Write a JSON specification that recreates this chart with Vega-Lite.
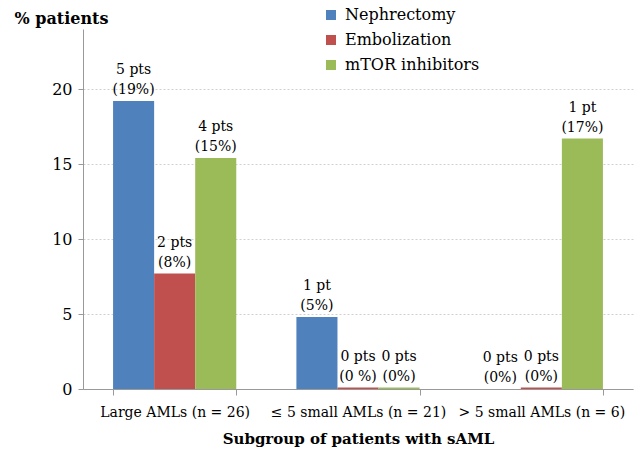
{
  "$schema": "https://vega.github.io/schema/vega-lite/v6.json",
  "width": 550,
  "height": 360,
  "autosize": {"type": "none"},
  "padding": {"left": 83, "top": 29, "right": 7, "bottom": 66},
  "background": "white",
  "config": {
    "font": "DejaVu Serif",
    "view": {"stroke": null},
    "axis": {"labelFont": "DejaVu Serif", "titleFont": "DejaVu Serif", "labelColor": "#000", "titleColor": "#000"}
  },
  "data": {
    "values": [
      {"group": "Large AMLs (n = 26)", "treatment": "Nephrectomy", "value": 19.2, "label": "5 pts\n(19%)"},
      {"group": "Large AMLs (n = 26)", "treatment": "Embolization", "value": 7.7, "label": "2 pts\n(8%)"},
      {"group": "Large AMLs (n = 26)", "treatment": "mTOR inhibitors", "value": 15.4, "label": "4 pts\n(15%)"},
      {"group": "≤ 5 small AMLs (n = 21)", "treatment": "Nephrectomy", "value": 4.8, "label": "1 pt\n(5%)"},
      {"group": "≤ 5 small AMLs (n = 21)", "treatment": "Embolization", "value": 0.1, "label": "0 pts\n(0 %)"},
      {"group": "≤ 5 small AMLs (n = 21)", "treatment": "mTOR inhibitors", "value": 0.1, "label": "0 pts\n(0%)"},
      {"group": "> 5 small AMLs (n = 6)", "treatment": "Nephrectomy", "value": 0, "label": "0 pts\n(0%)"},
      {"group": "> 5 small AMLs (n = 6)", "treatment": "Embolization", "value": 0.1, "label": "0 pts\n(0%)"},
      {"group": "> 5 small AMLs (n = 6)", "treatment": "mTOR inhibitors", "value": 16.7, "label": "1 pt\n(17%)"}
    ]
  },
  "encoding": {
    "x": {
      "field": "group", "type": "nominal",
      "sort": ["Large AMLs (n = 26)", "≤ 5 small AMLs (n = 21)", "> 5 small AMLs (n = 6)"],
      "scale": {"paddingInner": 0.328, "paddingOuter": 0.164},
      "axis": {
        "title": "Subgroup of patients with sAML",
        "titleFontSize": 15, "titleFontWeight": "bold", "titlePadding": 12,
        "labelAngle": 0, "labelFontSize": 14, "labelPadding": 10, "labelLimit": 400, "labelOverlap": false,
        "tickBand": "extent", "tickSize": 6, "tickColor": "#999", "domainColor": "#999"
      }
    },
    "xOffset": {
      "field": "treatment", "type": "nominal",
      "sort": ["Nephrectomy", "Embolization", "mTOR inhibitors"],
      "scale": {"paddingInner": 0, "paddingOuter": 0}
    },
    "y": {
      "field": "value", "type": "quantitative",
      "scale": {"domain": [0, 24], "nice": false},
      "axis": {
        "values": [0, 5, 10, 15, 20],
        "title": "% patients", "titleAngle": 0, "titleAlign": "left", "titleBaseline": "middle",
        "titleX": -69, "titleY": -11, "titleFontSize": 16, "titleFontWeight": "bold",
        "labelFontSize": 16, "labelPadding": 6, "tickSize": 5, "tickColor": "#999", "domainColor": "#999",
        "grid": true, "gridColor": "#D0D0D0", "gridDash": [2, 2]
      }
    }
  },
  "layer": [
    {
      "mark": {"type": "bar"},
      "encoding": {
        "color": {
          "field": "treatment", "type": "nominal",
          "scale": {"domain": ["Nephrectomy", "Embolization", "mTOR inhibitors"], "range": ["#4F81BD", "#C0504D", "#9BBB59"]},
          "legend": {
            "title": null, "orient": "none", "legendX": 240, "legendY": -22, "padding": 0,
            "symbolType": "square", "symbolSize": 100, "symbolStrokeWidth": 0,
            "labelFontSize": 16, "labelFont": "DejaVu Serif", "labelColor": "#000", "rowPadding": 9, "labelOffset": 6
          }
        }
      }
    },
    {
      "mark": {"type": "text", "baseline": "alphabetic", "dy": -27, "lineBreak": "\n", "fontSize": 14, "lineHeight": 20, "font": "DejaVu Serif", "color": "#000"},
      "encoding": {"text": {"field": "label"}}
    }
  ]
}
